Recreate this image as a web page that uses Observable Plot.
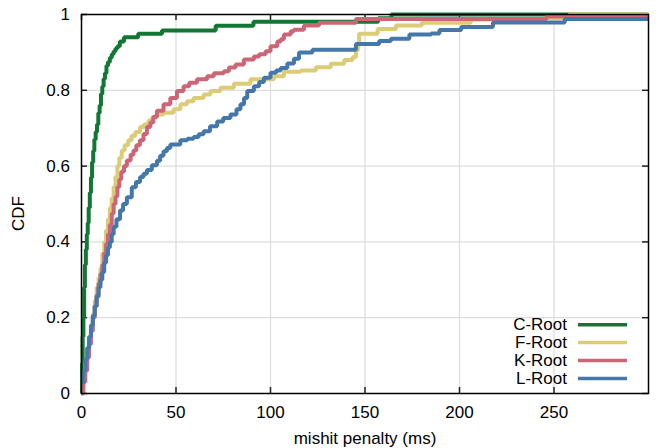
<!DOCTYPE html>
<html>
<head>
<meta charset="utf-8">
<script src="https://cdn.jsdelivr.net/npm/d3@7"></script>
<script src="https://cdn.jsdelivr.net/npm/@observablehq/plot@0.6"></script>
<style>
  html, body { margin: 0; padding: 0; background: #fff; }
  #chart { width: 662px; height: 448px; }
</style>
</head>
<body>
<div id="chart"></div>
<script>
// ---- data ----
const seriesNames = ["C-Root", "F-Root", "K-Root", "L-Root"];
const seriesColors = ["#117733", "#DDCC77", "#CC6677", "#4477AA"];
const xTicks = [0, 50, 100, 150, 200, 250];
const yTicks = [0, 0.2, 0.4, 0.6, 0.8, 1];
const yTickLabels = ["0", "0.2", "0.4", "0.6", "0.8", "1"];
const xLabel = "mishit penalty (ms)";
const yLabel = "CDF";

const cRootX = [0, 0.3, 0.6, 1, 1.4, 1.8, 2.3, 2.8, 3.3, 3.8, 4.4, 5, 5.6, 6.2, 6.8, 7.5, 8.2, 8.9, 9.6, 10.3, 11, 11.7, 12.4, 13.2, 14, 15, 16, 17, 18, 19, 20.3, 22.5, 30, 42.6, 71, 91, 157, 164, 300];
const cRootY = [0, 0.08, 0.15, 0.2, 0.28, 0.34, 0.38, 0.42, 0.45, 0.49, 0.53, 0.57, 0.61, 0.64, 0.67, 0.69, 0.71, 0.74, 0.76, 0.79, 0.81, 0.83, 0.845, 0.865, 0.875, 0.886, 0.895, 0.903, 0.91, 0.916, 0.929, 0.94, 0.949, 0.958, 0.97, 0.981, 0.99, 1.0, 1.0];

const fRootX = [0, 1, 2, 3, 4, 5, 6, 7, 8, 9, 10, 11, 12, 13, 14, 15, 16, 17, 18, 19, 20, 21.3, 22.8, 24.7, 26.5, 28.5, 31, 33, 35.5, 37.5, 39.9, 43.4, 48.7, 52.3, 55.8, 59.3, 64.6, 68.2, 73.5, 80.6, 89.4, 101.8, 107.1, 116, 124, 131.9, 139, 143.4, 145.2, 146.2, 146.9, 156.7, 166.4, 180, 206, 245, 258, 300];
const fRootY = [0.02, 0.05, 0.08, 0.11, 0.145, 0.18, 0.21, 0.245, 0.28, 0.305, 0.33, 0.37, 0.4, 0.43, 0.46, 0.49, 0.515, 0.545, 0.572, 0.6, 0.622, 0.641, 0.655, 0.668, 0.68, 0.69, 0.703, 0.71, 0.72, 0.728, 0.736, 0.741, 0.75, 0.763, 0.771, 0.78, 0.789, 0.798, 0.807, 0.817, 0.829, 0.837, 0.849, 0.852, 0.861, 0.87, 0.88, 0.887, 0.905, 0.922, 0.949, 0.962, 0.971, 0.978, 0.987, 0.99, 1.0, 1.0];

const kRootX = [0, 1, 2, 3, 4, 5, 6, 7, 8, 9, 10, 11, 12, 13, 14, 15, 16, 17, 18, 19, 20, 21, 22.5, 24, 26, 27.5, 29, 30.9, 32.8, 34.6, 36.4, 38, 39.9, 43.4, 47, 50.5, 54, 57, 61.1, 66.5, 70, 75.3, 78, 81.5, 85.9, 91.2, 94, 97.4, 100, 103.6, 105.4, 107.1, 110.7, 112.4, 117.7, 125.7, 145.2, 246, 300];
const kRootY = [0, 0.03, 0.06, 0.095, 0.13, 0.165, 0.2, 0.23, 0.26, 0.29, 0.315, 0.34, 0.37, 0.395, 0.42, 0.445, 0.475, 0.5, 0.52, 0.545, 0.565, 0.585, 0.6, 0.615, 0.63, 0.641, 0.655, 0.668, 0.685, 0.703, 0.715, 0.73, 0.746, 0.763, 0.78, 0.798, 0.811, 0.82, 0.829, 0.837, 0.845, 0.85, 0.86, 0.868, 0.881, 0.889, 0.895, 0.903, 0.916, 0.929, 0.935, 0.947, 0.956, 0.96, 0.971, 0.978, 0.988, 0.995, 0.995];

const lRootX = [0, 1, 2, 3, 4, 5, 6, 7, 8, 9, 10, 11, 12, 13, 14, 15, 16, 17, 18.5, 20.4, 22, 24, 26.6, 28.8, 31, 32.8, 34.6, 37.2, 39.9, 41.6, 43.4, 45.2, 47, 52.3, 56, 59.3, 62, 64.6, 68, 71.8, 75, 78.8, 82, 84.1, 86, 87.7, 91.2, 94, 96.5, 100, 103, 105.4, 108.9, 112.4, 115.1, 122.2, 145.2, 157.5, 163.7, 173.5, 185, 189.4, 200.9, 217.7, 255.7, 300];
const lRootY = [0.03, 0.06, 0.09, 0.12, 0.15, 0.18, 0.205, 0.23, 0.255, 0.28, 0.3, 0.32, 0.345, 0.365, 0.385, 0.4, 0.42, 0.44, 0.46, 0.483, 0.5, 0.518, 0.544, 0.558, 0.571, 0.58, 0.59, 0.602, 0.614, 0.627, 0.639, 0.648, 0.657, 0.668, 0.672, 0.677, 0.684, 0.692, 0.705, 0.718, 0.727, 0.736, 0.75, 0.763, 0.78, 0.798, 0.811, 0.822, 0.833, 0.846, 0.852, 0.859, 0.871, 0.883, 0.9, 0.907, 0.922, 0.93, 0.936, 0.947, 0.95, 0.959, 0.967, 0.979, 0.988, 0.988];

// ---- build table ----
const seriesXs = [cRootX, fRootX, kRootX, lRootX];
const seriesYs = [cRootY, fRootY, kRootY, lRootY];
const rows = seriesNames.flatMap((name, s) =>
  seriesXs[s].map((x, i) => ({series: name, x, y: seriesYs[s][i]}))
);

const W = 662, H = 448;
const mL = 81, mR = 14, mT = 14, mB = 55;
const innerW = W - mL - mR, innerH = H - mT - mB;
const fontFamily = '"Liberation Sans", Arial, Helvetica, sans-serif';

const plot = Plot.plot({
  width: W,
  height: H,
  marginLeft: mL,
  marginRight: mR,
  marginTop: mT,
  marginBottom: mB,
  style: {fontFamily, fontSize: "17px", color: "#000", background: "#fff"},
  x: {domain: [0, 300]},
  y: {domain: [0, 1]},
  color: {domain: seriesNames, range: seriesColors},
  marks: [
    // grid
    Plot.ruleX(xTicks.filter(d => d > 0), {stroke: "#dedede", strokeWidth: 1.3}),
    Plot.ruleY(yTicks.filter(d => d > 0 && d < 1), {stroke: "#dedede", strokeWidth: 1.3}),
    // inward ticks (bottom, top, left, right)
    Plot.ruleX(xTicks, {insetTop: innerH - 6, stroke: "#222", strokeWidth: 1.5}),
    Plot.ruleX(xTicks, {insetBottom: innerH - 6, stroke: "#222", strokeWidth: 1.5}),
    Plot.ruleY(yTicks, {insetRight: innerW - 6, stroke: "#222", strokeWidth: 1.5}),
    Plot.ruleY(yTicks, {insetLeft: innerW - 6, stroke: "#222", strokeWidth: 1.5}),
    // curves
    Plot.line(rows, {
      x: "x", y: "y", z: "series", stroke: "series",
      curve: "step-after", strokeWidth: 4,
      strokeLinejoin: "miter", strokeLinecap: "butt"
    }),
    Plot.frame({stroke: "#000", strokeWidth: 1.5}),
    // axes
    Plot.axisX({ticks: xTicks, tickSize: 0, tickPadding: 12, label: null, fill: "#000"}),
    Plot.axisY({ticks: yTicks, tickSize: 0, tickPadding: 11.5, label: null, fill: "#000",
      tickFormat: d => yTickLabels[yTicks.indexOf(d)]}),
    Plot.text([xLabel], {frameAnchor: "bottom", dy: 45.3, lineAnchor: "middle", fill: "#000"})
  ]
});

const svg = d3.select(plot);
const right = W - mR, bottom = H - mB;

// y-axis title, rotated, left of the tick labels
svg.append("text")
  .attr("transform", `translate(${mL - 62.5},${mT + innerH / 2 + 10}) rotate(-90)`)
  .attr("text-anchor", "middle").attr("dy", "0.34em")
  .attr("font-family", fontFamily).attr("font-size", 17).attr("fill", "#000")
  .text(yLabel);

// legend inside the plot frame (bottom-right), drawn relative to the frame
const legend = svg.append("g").attr("font-family", fontFamily).attr("font-size", 17);
seriesNames.forEach((name, i) => {
  const cy = bottom - 14.6 - (seriesNames.length - 1 - i) * 17.9;
  legend.append("text")
    .attr("x", right - 81).attr("y", cy).attr("dy", "0.34em")
    .attr("text-anchor", "end").attr("fill", "#000").text(name);
  legend.append("line")
    .attr("x1", right - 70).attr("x2", right - 21)
    .attr("y1", cy).attr("y2", cy)
    .attr("stroke", seriesColors[i]).attr("stroke-width", 3.5);
});

document.getElementById("chart").appendChild(plot);
</script>
</body>
</html>
